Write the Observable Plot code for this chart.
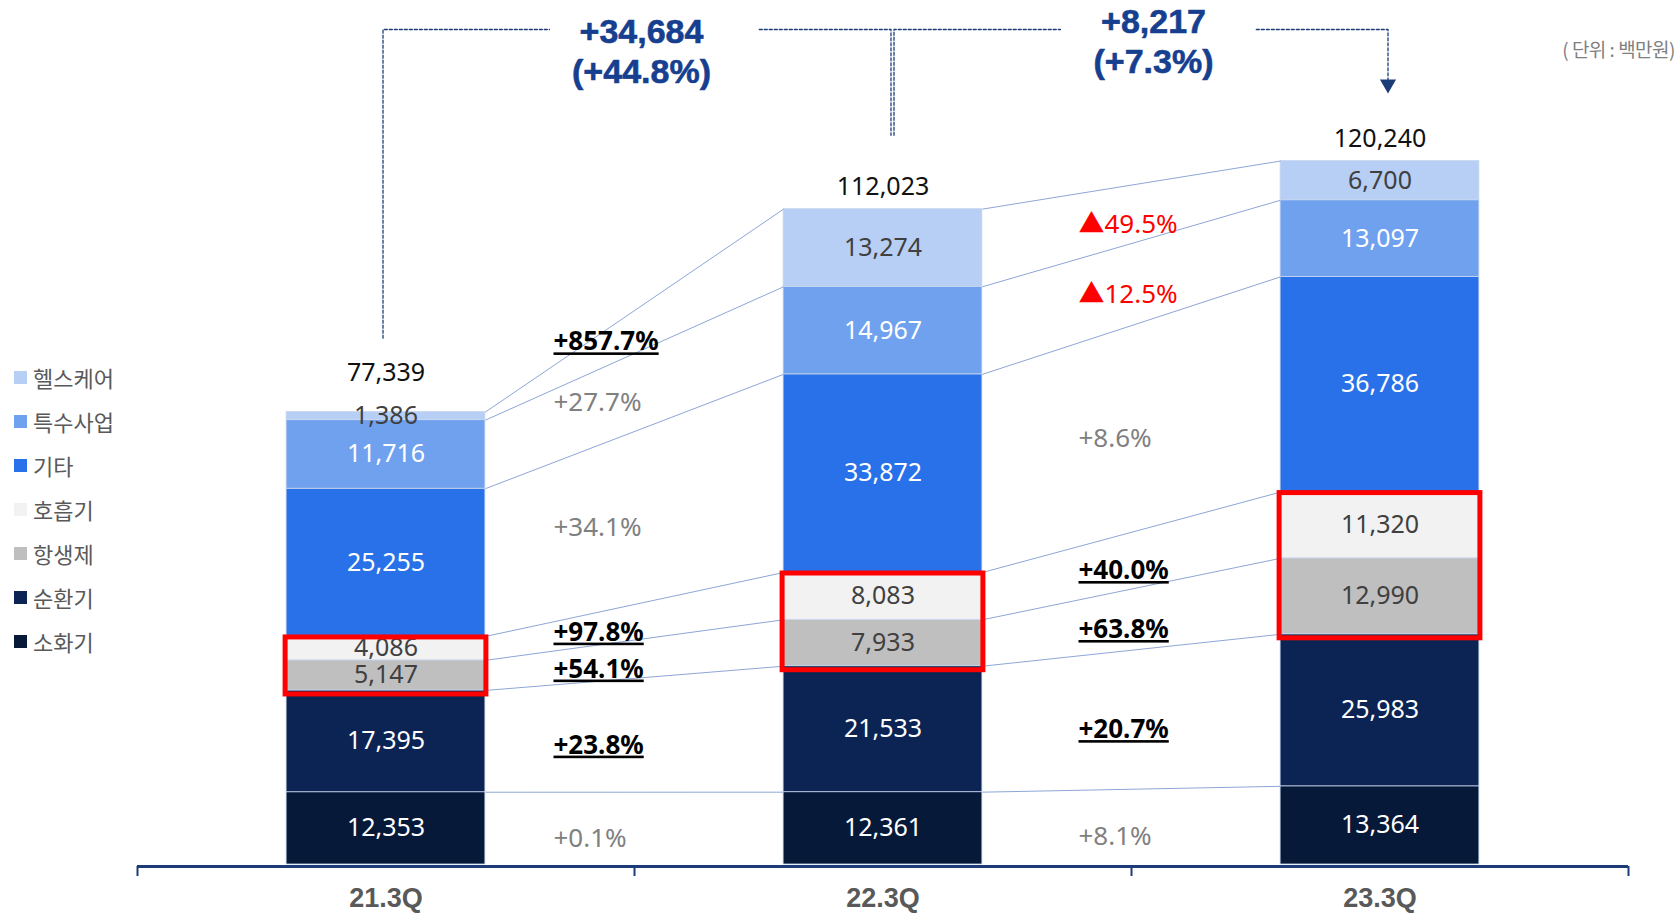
<!DOCTYPE html>
<html>
<head>
<meta charset="utf-8">
<script src="https://cdn.jsdelivr.net/npm/d3@7"></script>
<script src="https://cdn.jsdelivr.net/npm/@observablehq/plot@0.6"></script>
<style>
  body { margin: 0; background: #fff; }
  #wrap { position: relative; width: 1678px; height: 913px; overflow: hidden;
          font-family: "Noto Sans", "Noto Sans CJK KR", sans-serif; }
  #legend { position: absolute; left: 14px; top: 355px; }
  .lg { display: flex; align-items: center; height: 44px; }
  .sw { width: 13px; height: 13px; margin-right: 6px; }
  .lt { font-family: "Noto Sans CJK KR", sans-serif; font-size: 22px; color: #595959; }
  #unit { position: absolute; right: 3px; top: 35px; font-family: "Noto Sans CJK KR", sans-serif;
          font-size: 19px; color: #7f7f7f; letter-spacing: -0.5px; }
  .ul text { text-decoration: underline; }
</style>
</head>
<body>
<div id="wrap"></div>
<script>
// ---------- data ----------
const quarters = ["21.3Q", "22.3Q", "23.3Q"];
const segments = ["소화기", "순환기", "항생제", "호흡기", "기타", "특수사업", "헬스케어"];
const colors   = ["#071939", "#0B2454", "#BFBFBF", "#F2F2F2", "#2971E9", "#70A1EF", "#B7CFF5"];
const labelInk = ["#ffffff", "#ffffff", "#404040", "#404040", "#ffffff", "#ffffff", "#404040"];

const digestive   = [12353, 12361, 13364];
const circulatory = [17395, 21533, 25983];
const antibiotic  = [5147, 7933, 12990];
const respiratory = [4086, 8083, 11320];
const other       = [25255, 33872, 36786];
const special     = [11716, 14967, 13097];
const healthcare  = [1386, 13274, 6700];
const totals      = [77339, 112023, 120240];

// growth labels between bars, ordered like segments (bottom to top)
const growth1 = ["+0.1%", "+23.8%", "+54.1%", "+97.8%", "+34.1%", "+27.7%", "+857.7%"];
const growth2 = ["+8.1%", "+20.7%", "+63.8%", "+40.0%", "+8.6%", "▲12.5%", "▲49.5%"];
const kind1   = ["gray", "bold", "bold", "bold", "gray", "gray", "bold"];
const kind2   = ["gray", "bold", "bold", "bold", "gray", "red", "red"];

const diffAbs = ["+34,684", "+8,217"];
const diffPct = ["(+44.8%)", "(+7.3%)"];
const unitText = "( 단위 : 백만원)";

// ---------- derived table ----------
const series = [digestive, circulatory, antibiotic, respiratory, other, special, healthcare];
const rows = [];
quarters.forEach((q, qi) => {
  let acc = 0;
  series.forEach((arr, si) => {
    rows.push({q, qi, si, seg: segments[si], value: arr[qi], y1: acc, y2: acc + arr[qi]});
    acc += arr[qi];
  });
});
const cell = (qi, si) => rows.find(r => r.qi === qi && r.si === si);
const half = 0.2; // half bar width in band units

const links = [];
const gapRows = [];
const growth = [growth1, growth2];
const kinds = [kind1, kind2];
for (let g = 0; g < 2; g++) {
  for (let s = 0; s < segments.length; s++) {
    const a = cell(g, s), b = cell(g + 1, s);
    links.push({x1: g + 0.5 + half, y1: a.y2, x2: g + 1.5 - half, y2: b.y2});
    gapRows.push({g, s, text: growth[g][s], kind: kinds[g][s],
                  y: ((a.y1 + a.y2) / 2 + (b.y1 + b.y2) / 2) / 2});
  }
}

const navy = "#1C3C78";
const annBlue = "#163F8F";
const maxTot = d3.max(totals);
const level = maxTot * 1.187;
const pad = maxTot * 0.105;
const start = totals.map(t => t + pad);
const gapL = 0.165, gapR = 0.235;

const gapDx = [-81, -53];
const kindStyle = {
  gray: {fill: "#808080", fontWeight: "normal"},
  bold: {fill: "#000000", fontWeight: "bold", className: "ul"},
  red:  {fill: "#FF0000", fontWeight: "normal"}
};

const marks = [];
// bars
marks.push(Plot.rect(rows, {
  x1: d => d.qi + 0.5 - half, x2: d => d.qi + 0.5 + half,
  y1: "y1", y2: "y2", fill: d => colors[d.si],
  stroke: "#C8D6EE", strokeWidth: 0.8
}));
// connecting lines
marks.push(Plot.link(links, {x1: "x1", y1: "y1", x2: "x2", y2: "y2", stroke: "#8EA6D6", strokeWidth: 1}));
// segment labels
marks.push(Plot.text(rows, {
  x: d => d.qi + 0.5, y: d => (d.y1 + d.y2) / 2, text: d => d3.format(",")(d.value),
  fill: d => labelInk[d.si], fontSize: 25
}));
// red boxes around 항생제 + 호흡기
marks.push(Plot.rect(quarters, {
  x1: (d, i) => i + 0.5 - half, x2: (d, i) => i + 0.5 + half,
  y1: (d, i) => cell(i, 2).y1, y2: (d, i) => cell(i, 3).y2,
  fill: "none", stroke: "#FF0000", strokeWidth: 5,
  insetTop: 1, insetBottom: -4, insetLeft: -1, insetRight: -1
}));
// totals
const totalDy = [-39, -22, -22];
totals.forEach((t, i) => {
  marks.push(Plot.text([t], {x: () => i + 0.5, y: d => d, text: d => d3.format(",")(d),
    dy: totalDy[i], fontSize: 25, fill: "#111"}));
});
// growth labels
for (let g = 0; g < 2; g++) {
  for (const k of ["gray", "bold", "red"]) {
    const st = kindStyle[k];
    marks.push(Plot.text(gapRows.filter(d => d.g === g && d.kind === k), {
      x: d => d.g + 1, y: "y", text: "text", textAnchor: "start",
      dx: gapDx[g], dy: 10, fontSize: 26, fill: st.fill, fontWeight: st.fontWeight,
      className: st.className
    }));
  }
}
// bracket annotations
const dashOpts = {stroke: navy, strokeWidth: 1.3, strokeDasharray: "3,2"};
const segDx = [[-3, 8], [11, 8]];
for (let g = 0; g < 2; g++) {
  const c = g + 1;
  marks.push(Plot.line([[g + 0.5, start[g]], [g + 0.5, level], [c - gapL, level]], {...dashOpts, dx: segDx[g][0]}));
  marks.push(Plot.line([[c + gapR, level], [g + 1.5, level], [g + 1.5, start[g + 1]]], {...dashOpts, dx: segDx[g][1]}));
}
marks.push(Plot.dot([start[2]], {x: () => 2.5, y: d => d, symbol: "triangle", r: 6, rotate: 180,
  fill: navy, stroke: "none", dx: segDx[1][1], dy: -3}));
const annDx = [7, 22];
const annDy = [21, 11];
for (let g = 0; g < 2; g++) {
  marks.push(Plot.text([diffAbs[g] + "\n" + diffPct[g]], {
    x: () => g + 1, y: () => level, text: d => d, dx: annDx[g], dy: annDy[g],
    fontSize: 34, fontWeight: "bold", fill: annBlue, lineHeight: 1.18,
    stroke: annBlue, strokeWidth: 0.6,
    fontFamily: "'Liberation Sans', Arial, sans-serif"
  }));
}
// axis
marks.push(Plot.ruleY([0], {stroke: navy, strokeWidth: 3, dy: 2}));
marks.push(Plot.axisX({ticks: [0, 1, 2, 3], tickSize: 10, tickFormat: () => "", stroke: navy, strokeWidth: 2, anchor: "bottom", dy: 2}));
marks.push(Plot.axisX({ticks: [0.5, 1.5, 2.5], tickSize: 0, tickPadding: 23, anchor: "bottom",
  tickFormat: d => quarters[Math.floor(d)], fontSize: 27, fontWeight: "bold", fill: "#595959",
  stroke: "#595959", strokeWidth: 0.7,
  fontFamily: "'Liberation Sans', Arial, sans-serif"}));

const chart = Plot.plot({
  width: 1678, height: 913,
  marginLeft: 137, marginRight: 50, marginTop: 4, marginBottom: 49,
  x: {domain: [0, 3], axis: null},
  y: {domain: [0, 147000], axis: null},
  style: {fontFamily: "'Noto Sans', 'Noto Sans CJK KR', sans-serif", background: "#fff", overflow: "visible"},
  marks
});

const wrap = document.getElementById("wrap");
wrap.appendChild(chart);

// legend (top to bottom: reverse of stacking order)
const legend = document.createElement("div");
legend.id = "legend";
segments.map((s, i) => ({s, c: colors[i]})).reverse().forEach(({s, c}) => {
  const row = document.createElement("div");
  row.className = "lg";
  const sw = document.createElement("div");
  sw.className = "sw"; sw.style.background = c;
  const t = document.createElement("span");
  t.className = "lt"; t.textContent = s;
  row.appendChild(sw); row.appendChild(t);
  legend.appendChild(row);
});
wrap.appendChild(legend);

const unit = document.createElement("div");
unit.id = "unit"; unit.textContent = unitText;
wrap.appendChild(unit);
</script>
</body>
</html>
